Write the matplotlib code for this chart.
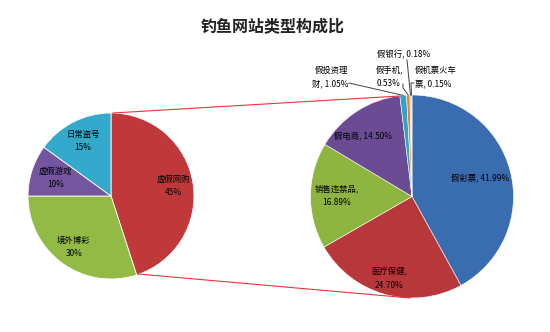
import matplotlib
matplotlib.use("Agg")
import matplotlib.pyplot as plt
import numpy as np

plt.rcParams['font.family'] = ['Noto Sans CJK SC', 'DejaVu Sans']

title = "钓鱼网站类型构成比"

left_labels = ["虚假网购", "境外博彩", "虚假游戏", "日常盗号"]
left_values = [45, 30, 10, 15]

right_labels = ["假彩票", "医疗保健", "销售违禁品", "假电商", "假投资理财", "假手机", "假银行", "假机票火车票"]
right_values = [41.99, 24.70, 16.89, 14.50, 1.05, 0.53, 0.18, 0.15]

left_colors = ["#C0393A", "#93BA45", "#7455A0", "#33A9CC"]
right_colors = ["#3A6CB0", "#B8373A", "#8EB53F", "#6B4C94", "#31A3C6", "#F0821E", "#A5A5A5", "#9CB8DA"]

W, H = 550, 332
fig = plt.figure(figsize=(5.5, 3.32), dpi=100)
ax = fig.add_axes([0, 0, 1, 1])

def Y(py):
    return H - py

lc = (111, Y(196)); lr = 83
rc = (412, Y(196.5)); rr = 101.5

lw, _ = ax.pie(left_values, colors=left_colors, startangle=90, counterclock=False,
               center=lc, radius=lr, wedgeprops=dict(edgecolor='white', linewidth=0.6))
rw, _ = ax.pie(right_values, colors=right_colors, startangle=90, counterclock=False,
               center=rc, radius=rr, wedgeprops=dict(edgecolor='white', linewidth=0.4))

fs = 6
# left labels
ldist = [0.76, 0.76, 0.70, 0.74]
for w, lab, v, d in zip(lw, left_labels, left_values, ldist):
    a = np.deg2rad((w.theta1 + w.theta2) / 2)
    x = lc[0] + d * lr * np.cos(a)
    y = lc[1] + d * lr * np.sin(a)
    ax.text(x, y, f"{lab}\n{v}%", ha='center', va='center', fontsize=fs, linespacing=1.6)

# right inside labels
rtexts = [f"{right_labels[0]}, {right_values[0]:.2f}%",
          f"{right_labels[1]},\n{right_values[1]:.2f}%",
          f"{right_labels[2]},\n{right_values[2]:.2f}%",
          f"{right_labels[3]}, {right_values[3]:.2f}%"]
rdist = [0.69, 0.84, 0.74, 0.76]
rang_adj = [0, 0, 0, 6]
for i in range(4):
    w = rw[i]
    a = np.deg2rad((w.theta1 + w.theta2) / 2 + rang_adj[i])
    x = rc[0] + rdist[i] * rr * np.cos(a)
    y = rc[1] + rdist[i] * rr * np.sin(a)
    ax.text(x, y, rtexts[i], ha='center', va='center', fontsize=fs, linespacing=1.6)

# small slice labels with leader lines
def edge_pt(w):
    a = np.deg2rad((w.theta1 + w.theta2) / 2)
    return rc[0] + rr * np.cos(a), rc[1] + rr * np.sin(a)

lkw = dict(color='#404040', lw=0.7)
# 假投资理财
px, py = edge_pt(rw[4])
ax.text(348, Y(77), "假投资理\n财, %.2f%%" % right_values[4], ha='right', va='center', fontsize=fs, linespacing=1.6)
ax.plot([349, px], [Y(83), py], **lkw)
# 假手机
px, py = edge_pt(rw[5])
ax.text(389, Y(77), "假手机,\n%.2f%%" % right_values[5], ha='center', va='center', fontsize=fs, linespacing=1.6)
ax.plot([403, 403, px], [Y(84), Y(88), py], **lkw)
# 假银行
px, py = edge_pt(rw[6])
ax.text(404, Y(55), "假银行, %.2f%%" % right_values[6], ha='center', va='center', fontsize=fs)
ax.plot([407, px], [Y(60), py], **lkw)
# 假机票火车票
px, py = edge_pt(rw[7])
ax.text(415, Y(77), "假机票火车\n票, %.2f%%" % right_values[7], ha='left', va='center', fontsize=fs, linespacing=1.6)
ax.plot([414, 411, px], [Y(83), Y(83), py], **lkw)

# connector lines
ax.plot([113, 400], [Y(113), Y(96)], color='#E8363A', lw=0.8)
ax.plot([138, 410], [Y(274), Y(298)], color='#E8363A', lw=0.8)

ax.text(273, Y(27), title, ha='center', va='center', fontsize=11.5, fontweight='bold', color='#222222')

ax.set_xlim(0, W)
ax.set_ylim(0, H)
ax.set_aspect('auto')
ax.axis('off')
fig.savefig("out.png", dpi=100, facecolor='white')
